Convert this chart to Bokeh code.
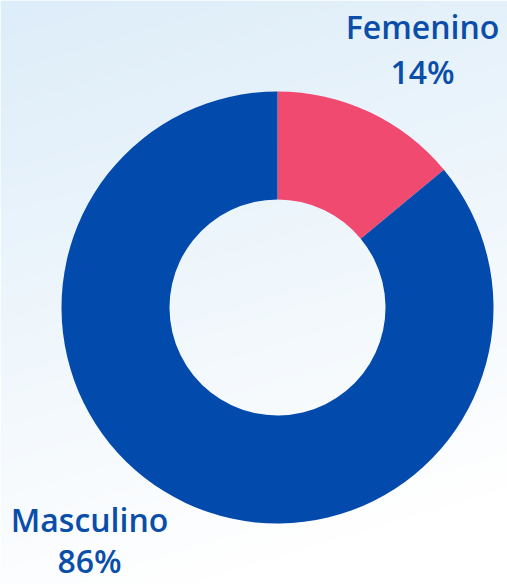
import numpy as np
from bokeh.plotting import figure
from bokeh.models import Range1d, ColumnDataSource
from bokeh.core.properties import value
from bokeh.embed import file_html
from bokeh.resources import INLINE

# ---- data ----
categories = ["Femenino", "Masculino"]
percentages = [14, 86]
colors = ["#F04A71", "#024BAC"]

W, H = 507, 584
p = figure(width=W, height=H, output_backend="svg", toolbar_location=None,
           x_range=Range1d(0, W), y_range=Range1d(0, H), min_border=0,
           match_aspect=False)
p.axis.visible = False
p.grid.visible = False
p.outline_line_color = None
p.background_fill_color = "#ffffff"
p.border_fill_color = "#ffffff"

# background gradient (style only)
nx, ny = 254, 292
xs = np.linspace(0, 1, nx)
ys = np.linspace(0, 1, ny)
X, Y = np.meshgrid(xs, ys)  # Y=0 bottom
t = np.clip(((1 - Y) * 584 + 0.3 * X * 507) / (584 + 0.3 * 507) * 1.15, 0, 1)
c0 = np.array([221, 237, 249])
c1 = np.array([255, 255, 255])
img = np.zeros((ny, nx), dtype=np.uint32)
view = img.view(dtype=np.uint8).reshape((ny, nx, 4))
for k in range(3):
    view[:, :, k] = (c0[k] + (c1[k] - c0[k]) * t).astype(np.uint8)
view[:, :, 3] = 255
p.image_rgba(image=[img], x=0, y=0, dw=W, dh=H)

# donut
vals = np.array(percentages, dtype=float)
fr = vals / vals.sum()
ends = np.cumsum(fr) * 2 * np.pi
starts = ends - fr * 2 * np.pi
cx, cy = 277, H - 307
src = ColumnDataSource(dict(
    cat=categories,
    start=[np.pi / 2 - s for s in starts],
    end=[np.pi / 2 - e for e in ends],
    color=colors,
))
p.annular_wedge(x=cx, y=cy, inner_radius=108, outer_radius=216,
                start_angle="start", end_angle="end", direction="clock",
                fill_color="color", line_color=None, source=src)

# labels
font = value("Open Sans SemiBold, Open Sans")
lab_x = [422, 89]
lab_y1 = [H - 26, H - 519]
lab_y2 = [H - 71, H - 560]
for i, c in enumerate(categories):
    p.text(x=[lab_x[i]], y=[lab_y1[i]], text=[c],
           text_font=font, text_font_size="32px",
           text_color="#0A4EAA", text_align="center", text_baseline="alphabetic")
    p.text(x=[lab_x[i]], y=[lab_y2[i]], text=[f"{percentages[i]}%"],
           text_font=font, text_font_size="32px",
           text_color="#0A4EAA", text_align="center", text_baseline="alphabetic")

html = file_html(p, INLINE)
html = html.replace("<head>", "<head><style>html,body{margin:0;padding:0;overflow:hidden;}</style>", 1)
open("out.html", "w").write(html)
